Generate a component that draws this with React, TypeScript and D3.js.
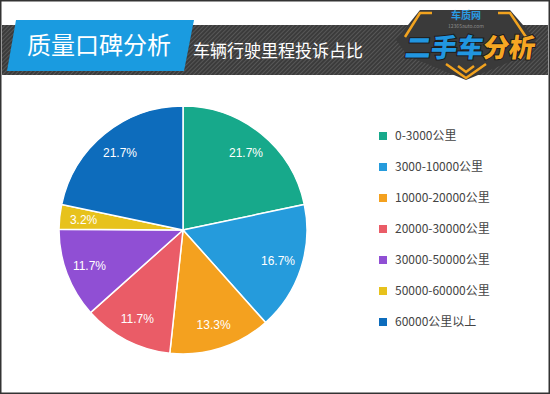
import React, { useEffect, useRef } from "react";
import * as d3 from "d3";

// Data
const categories = [
  "0-3000公里",
  "3000-10000公里",
  "10000-20000公里",
  "20000-30000公里",
  "30000-50000公里",
  "50000-60000公里",
  "60000公里以上",
];
const shares = [21.7, 16.7, 13.3, 11.7, 11.7, 3.2, 21.7];
const colors = ["#17a98b", "#259bdc", "#f4a11f", "#ea5c67", "#904fd4", "#e7c21c", "#0d6cbc"];
const titleText = "质量口碑分析";
const subtitleText = "车辆行驶里程投诉占比";
const logoLeft = "二手车";
const logoRight = "分析";

const W = 550;
const H = 394;

const App: React.FC = () => {
  const svgRef = useRef<SVGSVGElement | null>(null);

  useEffect(() => {
    const svg = d3.select(svgRef.current);
    svg.selectAll("*").remove();
    const font = "'Noto Sans CJK SC', 'Liberation Sans', Arial, sans-serif";

    // background
    svg.append("rect").attr("width", W).attr("height", H).attr("fill", "#fff");

    // striped header band
    const defs = svg.append("defs");
    const pat = defs
      .append("pattern")
      .attr("id", "stripes")
      .attr("width", 3)
      .attr("height", 3)
      .attr("patternUnits", "userSpaceOnUse")
      .attr("patternTransform", "rotate(45)");
    pat.append("rect").attr("width", 3).attr("height", 3).attr("fill", "#3b3b3b");
    pat.append("rect").attr("width", 1).attr("height", 3).attr("fill", "#575757");

    svg.append("rect").attr("x", 2).attr("y", 25).attr("width", 546).attr("height", 50).attr("fill", "url(#stripes)");

    // blue title box
    svg
      .append("path")
      .attr("d", "M16,20 L194,20 L184,71 L7,71 Z")
      .attr("fill", "#1a9be0");
    svg
      .append("text")
      .attr("x", 99)
      .attr("y", 54)
      .attr("text-anchor", "middle")
      .attr("fill", "#fff")
      .attr("font-family", font)
      .attr("font-size", 24)
      .text(titleText);

    svg
      .append("text")
      .attr("x", 193)
      .attr("y", 57)
      .attr("fill", "#fff")
      .attr("font-family", font)
      .attr("font-size", 17)
      .text(subtitleText);

    // logo shield
    const logo = svg.append("g");
    logo
      .append("path")
      .attr("d", "M420,10 L510,10 L536,40 L524,56 L466,80 L408,56 L396,40 Z")
      .attr("fill", "#3a3a3a");
    logo
      .append("path")
      .attr("d", "M432,13 L420,13 L405,37 M498,13 L510,13 L526,37")
      .attr("fill", "none")
      .attr("stroke", "#f2a31f")
      .attr("stroke-width", 2.5);
    logo
      .append("path")
      .attr("d", "M446,64 L466,78 L486,64 M458,66 L466,72 L474,66")
      .attr("fill", "none")
      .attr("stroke", "#f2a31f")
      .attr("stroke-width", 2.5);
    logo
      .append("text")
      .attr("x", 466)
      .attr("y", 19)
      .attr("text-anchor", "middle")
      .attr("fill", "#2a9be3")
      .attr("font-family", font)
      .attr("font-weight", 700)
      .attr("font-size", 10)
      .text("车质网");
    logo
      .append("text")
      .attr("x", 466)
      .attr("y", 27.5)
      .attr("text-anchor", "middle")
      .attr("fill", "#8a8a8a")
      .attr("font-family", font)
      .attr("font-size", 5)
      .text("12365auto.com");
    const lt = logo
      .append("text")
      .attr("x", 405)
      .attr("y", 57)
      .attr("font-family", font)
      .attr("font-weight", 900)
      .attr("font-size", 26)
      .attr("stroke", "#1c1c1c")
      .attr("stroke-width", 2)
      .attr("paint-order", "stroke")
      .attr("transform", "skewX(-8) translate(7,0)");
    lt.append("tspan").attr("fill", "#2196e0").text(logoLeft);
    lt.append("tspan").attr("fill", "#f6a623").text(logoRight);

    // pie
    const cx = 183;
    const cy = 230;
    const R = 124;
    const pie = d3.pie<number>().sort(null).value((d) => d);
    const arcs = pie(shares);
    const arc = d3.arc<d3.PieArcDatum<number>>().innerRadius(0).outerRadius(R);
    const labelArc = d3.arc<d3.PieArcDatum<number>>().innerRadius(100).outerRadius(100);

    const g = svg.append("g").attr("transform", `translate(${cx},${cy})`);
    g.selectAll("path")
      .data(arcs)
      .join("path")
      .attr("d", (d) => arc(d)!)
      .attr("fill", (_, i) => colors[i])
      .attr("stroke", "#fff")
      .attr("stroke-width", 1.5);

    g.selectAll("text")
      .data(arcs)
      .join("text")
      .attr("transform", (d) => `translate(${labelArc.centroid(d)})`)
      .attr("text-anchor", "middle")
      .attr("dy", "0.35em")
      .attr("fill", "#fff")
      .attr("font-family", "'Liberation Sans', Arial, sans-serif")
      .attr("font-size", 12)
      .text((d) => `${d.data.toFixed(1)}%`);

    // legend
    const ly = d3.scalePoint<string>().domain(categories).range([136, 322]);
    const leg = svg
      .append("g")
      .selectAll("g")
      .data(categories)
      .join("g")
      .attr("transform", (d) => `translate(379,${ly(d)})`);
    leg
      .append("rect")
      .attr("x", 0)
      .attr("y", -4)
      .attr("width", 8)
      .attr("height", 8)
      .attr("fill", (_, i) => colors[i]);
    leg
      .append("text")
      .attr("x", 16)
      .attr("dy", "0.35em")
      .attr("fill", "#444")
      .attr("font-family", font)
      .attr("font-size", 12)
      .text((d) => d);

    // outer frame
    svg
      .append("rect")
      .attr("x", 0.75)
      .attr("y", 0.75)
      .attr("width", W - 1.5)
      .attr("height", H - 1.5)
      .attr("fill", "none")
      .attr("stroke", "#333")
      .attr("stroke-width", 1.5);
  }, []);

  return (
    <svg
      ref={svgRef}
      width={W}
      height={H}
      style={{ position: "absolute", left: 0, top: 0, display: "block" }}
    ></svg>
  );
};

export default App;
